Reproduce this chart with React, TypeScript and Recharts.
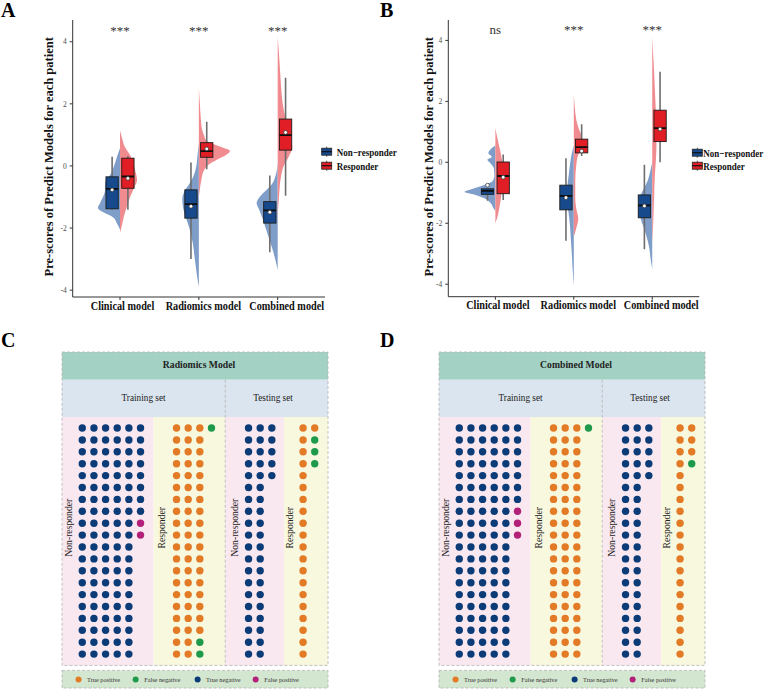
import React from 'react';
import { ScatterChart, Scatter, XAxis, YAxis, ReferenceArea, ReferenceLine, Curve } from 'recharts';

const SERIF = '"Liberation Serif", "Times New Roman", Times, serif';

const MODELS = ['Clinical model', 'Radiomics model', 'Combined model'];
const MODEL_POS = [1, 2, 3];
const GROUPS = ['Non\u2212responder', 'Responder'];
const Y_TICKS = [-4, -2, 0, 2, 4];
const SIG_A = ['***', '***', '***'];
const SIG_B = ['ns', '***', '***'];
const Y_TITLE = 'Pre-scores of Predict Models for each patient';

// boxplot per model: [upper whisker, q3, median, q1, lower whisker, mean]
const BOX_A_NR = [
  [0.3, -0.35, -0.74, -1.38, -1.41, -0.77],
  [0.11, -0.77, -1.23, -1.68, -3.0, -1.3],
  [-0.31, -1.15, -1.43, -1.84, -2.78, -1.49],
];
const BOX_A_R = [
  [0.32, 0.25, -0.34, -0.72, -1.41, -0.4],
  [1.42, 0.75, 0.48, 0.28, -0.11, 0.55],
  [2.84, 1.51, 0.99, 0.51, -0.96, 1.08],
];
const BOX_B_NR = [
  [-0.87, -0.87, -0.94, -1.05, -1.26, -0.75],
  [0.13, -0.75, -1.1, -1.56, -2.57, -1.16],
  [-0.08, -1.07, -1.41, -1.82, -2.85, -1.43],
];
const BOX_B_R = [
  [0.26, 0.01, -0.45, -1.03, -1.24, -0.49],
  [1.25, 0.76, 0.5, 0.31, 0.21, 0.37],
  [2.97, 1.71, 1.12, 0.68, 0.0, 1.09],
];

// half-violin profiles per model: [score, density]
const VIOLIN_A_NR = [
  [[0.57, 0], [0.3, 3], [0, 6], [-0.3, 10], [-0.45, 14], [-0.6, 15], [-0.8, 15], [-1.0, 17], [-1.2, 20], [-1.35, 22], [-1.5, 16], [-1.65, 7], [-1.85, 3], [-2.05, 0]],
  [[0.75, 0], [0.3, 1.5], [0, 2.5], [-0.3, 5], [-0.55, 9], [-0.8, 14], [-1.05, 16.5], [-1.3, 16], [-1.6, 13.5], [-2.0, 9.5], [-2.5, 6], [-3.0, 4], [-3.5, 2], [-3.9, 0]],
  [[0.1, 0], [-0.3, 2], [-0.6, 6], [-0.8, 12], [-1.0, 18], [-1.2, 21], [-1.4, 18.5], [-1.7, 15], [-2.0, 12], [-2.3, 9], [-2.7, 5], [-3.0, 2.5], [-3.35, 0]],
];
const VIOLIN_A_R = [
  [[1.15, 0], [0.9, 2], [0.6, 5], [0.3, 11], [0, 14], [-0.25, 16], [-0.45, 17], [-0.7, 14], [-1.0, 10], [-1.3, 7], [-1.6, 4], [-1.9, 2], [-2.15, 0]],
  [[2.5, 0], [2.0, 1], [1.5, 2], [1.2, 3], [1.0, 5], [0.8, 8], [0.7, 15], [0.6, 23], [0.48, 31], [0.35, 27], [0.2, 18], [0.05, 10], [-0.15, 5], [-0.45, 2.5], [-0.75, 1], [-1.0, 0]],
  [[4.15, 0], [3.5, 1.5], [3.0, 2.5], [2.5, 3.5], [2.0, 5], [1.5, 8], [1.0, 12], [0.6, 14.5], [0.3, 11], [0, 6], [-0.4, 3], [-0.9, 1.5], [-1.6, 0]],
];
const VIOLIN_B_NR = [
  [[0.55, 0], [0.42, 5], [0.3, 7], [0.18, 3.5], [0.08, 8], [-0.03, 5], [-0.2, 1.5], [-0.45, 1], [-0.62, 3], [-0.75, 12], [-0.88, 24], [-0.97, 31], [-1.07, 20], [-1.18, 11], [-1.33, 5], [-1.5, 2], [-1.6, 0]],
  [[0.55, 0], [0.3, 2], [0, 3.5], [-0.4, 5], [-0.8, 6.5], [-1.2, 7], [-1.6, 5.5], [-2.0, 4], [-2.5, 3], [-3.0, 2], [-3.5, 1.2], [-4.05, 0]],
  [[0, 0], [-0.3, 2], [-0.6, 4.5], [-0.9, 9], [-1.2, 13], [-1.5, 14], [-1.8, 12], [-2.1, 9], [-2.4, 6], [-2.8, 3], [-3.2, 1.5], [-3.5, 0]],
];
const VIOLIN_B_R = [
  [[1.12, 0], [0.8, 2], [0.5, 4], [0.2, 6], [-0.1, 7], [-0.5, 7], [-0.9, 6.5], [-1.2, 5.5], [-1.5, 4], [-1.8, 2], [-2.0, 0]],
  [[2.25, 0], [1.8, 1], [1.4, 2.5], [1.1, 5], [0.85, 8], [0.6, 9], [0.4, 7], [0.2, 4], [-0.1, 2.5], [-0.6, 1.5], [-1.2, 1.5], [-1.6, 3], [-1.85, 4.5], [-2.1, 3], [-2.45, 0]],
  [[4.1, 0], [3.5, 1], [3.0, 1.8], [2.5, 2.5], [2.0, 3.2], [1.5, 3.8], [1.0, 4.2], [0.5, 4.2], [0, 3.5], [-0.5, 2.5], [-1.0, 2], [-1.5, 1.5], [-2.0, 1], [-2.6, 0]],
];

// waffle panels: cells = training NR, training R, testing NR, testing R
const SETS = ['Training set', 'Testing set'];
const CLASSES = ['Non-responder', 'Responder'];
const OUTCOMES = ['True positive', 'False negative', 'True negative', 'False positive'];
const RADIOMICS_CORRECT = [108, 58, 45, 21];
const RADIOMICS_WRONG = [2, 3, 0, 3];
const COMBINED_CORRECT = [107, 60, 45, 23];
const COMBINED_WRONG = [3, 1, 0, 1];

const NR_BOX = '#174a8c';
const R_BOX = '#e11d25';
const NR_VIOLIN = '#7f9dc9';
const R_VIOLIN = '#f08b8f';
const TP_C = '#e27a26';
const FN_C = '#1f9a4b';
const TN_C = '#0b3c78';
const FP_C = '#b3207a';
const OUTCOME_COLORS = [TP_C, FN_C, TN_C, FP_C];

const VIOLIN_SCALE = 1 / 78.6;
const BOX_OFFSET = 0.1;
const BOX_W = 12.3;
const SIG_Y = 4.4;
const TICK_DX = [2.5, 4.5, 9];

const blank = () => <g />;

function halfViolin(center: number, side: number, profile: number[][]) {
  return profile.map(([y, d]) => ({ x: center + side * d * VIOLIN_SCALE, y }));
}

function boxData(center: number, stats: number[]) {
  return stats.map((y, k) => ({ x: center, y, k }));
}

const violinLine = (fill: string) => (lp: any) => (
  <Curve points={lp.points} type="monotoneY" fill={fill} stroke="none" />
);

const boxLine = (fill: string) => (lp: any) => {
  const [hi, q3, med, q1, lo] = lp.points;
  const x = hi.x;
  const h = BOX_W / 2;
  return (
    <g>
      <line x1={x} x2={x} y1={hi.y} y2={lo.y} stroke="#6e6e6e" strokeWidth={1.6} />
      <rect x={x - h} y={q3.y} width={BOX_W} height={Math.max(q1.y - q3.y, 0.5)} fill={fill} stroke="#1c1c1c" strokeWidth={0.9} />
      <line x1={x - h} x2={x + h} y1={med.y} y2={med.y} stroke="#0d0d0d" strokeWidth={1.8} />
    </g>
  );
};

const meanDot = (s: any) =>
  s.payload && s.payload.k === 5 ? (
    <circle cx={s.cx} cy={s.cy} r={1.9} fill="#fff" stroke="#2b2b2b" strokeWidth={0.7} />
  ) : (
    <g />
  );

const sigText = (s: any) => (
  <text x={s.cx} y={s.cy + 6} textAnchor="middle" fontFamily={SERIF} fontSize={13} fill="#333">
    {s.payload.label}
  </text>
);

const ModelTick = (t: any) => {
  const i = Math.round(t.payload.value) - 1;
  return (
    <g transform={`translate(${t.x + TICK_DX[i]},${t.y}) scale(0.82,1)`}>
      <text x={0} y={0} dy={8.5} textAnchor="middle" fontFamily={SERIF} fontWeight="bold" fontSize={12.5} fill="#111">
        {MODELS[i]}
      </text>
    </g>
  );
};

function ViolinPanel(p: any) {
  return (
    <div style={{ position: 'absolute', left: p.left, top: 0 }}>
      <ScatterChart width={p.width} height={316} margin={{ top: 20, right: 5, left: 0, bottom: 0 }}>
        <XAxis
          type="number"
          dataKey="x"
          domain={[0.4, 3.6]}
          ticks={MODEL_POS}
          allowDataOverflow
          height={p.xAxisHeight}
          stroke="#333"
          tickSize={3}
          tickMargin={1}
          tick={(t: any) => <ModelTick {...t} />}
        />
        <YAxis
          type="number"
          dataKey="y"
          domain={p.yDomain}
          ticks={Y_TICKS}
          allowDataOverflow
          width={p.yAxisWidth}
          stroke="#333"
          tickSize={3}
          tickMargin={3}
          tick={{ fontSize: 7.5, fill: '#4d4d4d', fontFamily: SERIF }}
        />
        {MODEL_POS.map((c, i) => (
          <Scatter key={'vn' + i} data={halfViolin(c, -1, p.vioNR[i])} shape={blank} line={violinLine(NR_VIOLIN)} isAnimationActive={false} />
        ))}
        {MODEL_POS.map((c, i) => (
          <Scatter key={'vr' + i} data={halfViolin(c, 1, p.vioR[i])} shape={blank} line={violinLine(R_VIOLIN)} isAnimationActive={false} />
        ))}
        {MODEL_POS.map((c, i) => (
          <Scatter key={'bn' + i} data={boxData(c - BOX_OFFSET, p.boxNR[i])} shape={meanDot} line={boxLine(NR_BOX)} isAnimationActive={false} />
        ))}
        {MODEL_POS.map((c, i) => (
          <Scatter key={'br' + i} data={boxData(c + BOX_OFFSET, p.boxR[i])} shape={meanDot} line={boxLine(R_BOX)} isAnimationActive={false} />
        ))}
        <Scatter
          data={MODEL_POS.map((c, i) => ({ x: c, y: SIG_Y, label: p.sig[i] }))}
          shape={sigText}
          isAnimationActive={false}
        />
      </ScatterChart>
    </div>
  );
}

// waffle layout in dot-column / dot-row units
const W_X_DOMAIN = [-1.74, 21.09];
const W_Y_DOMAIN = [-6.39, 21.85];
const GRID_ROWS = 20;
const CELL_START = [0, 8.09, 14.27, 18.95];
const BAND_X = [-1.74, 6.12, 12.27, 17.31, 21.09];
const BAND_Y = [-6.39, -4.06, -0.92, 19.95, 20.37, 21.85];
const CELL_LABEL_X = [-1.18, 6.84, 13.07, 17.8];
const LEGEND_X = [-0.32, 4.58, 9.9, 14.88];

function waffle(start: number, correct: number, wrong: number) {
  const pts: any[] = [];
  for (let k = 0; k < correct + wrong; k++) {
    pts.push({ x: start + Math.floor(k / GRID_ROWS), y: k % GRID_ROWS, w: k >= correct });
  }
  return pts;
}

const dotShape = (fill: string) => (s: any) => <circle cx={s.cx} cy={s.cy} r={3.7} fill={fill} />;

const waffleText = (s: any) => {
  const d = s.payload;
  if (d.k === 'side') {
    return (
      <text transform={`translate(${s.cx},${s.cy}) rotate(-90)`} textAnchor="middle" dominantBaseline="central" fontFamily={SERIF} fontSize={9.7} fill="#222">
        {d.t}
      </text>
    );
  }
  const bold = d.k === 'title';
  return (
    <text transform={`translate(${s.cx},${s.cy}) scale(0.88,1)`} textAnchor="middle" dominantBaseline="central" fontFamily={SERIF} fontSize={bold ? 11 : 10.5} fontWeight={bold ? 'bold' : 'normal'} fill="#222">
      {d.t}
    </text>
  );
};

const legendShape = (s: any) => (
  <g>
    <circle cx={s.cx} cy={s.cy} r={3} fill={s.payload.c} />
    <text transform={`translate(${s.cx + 8.5},${s.cy}) scale(0.9,1)`} dominantBaseline="central" fontFamily={SERIF} fontSize={7} fill="#333">
      {s.payload.t}
    </text>
  </g>
);

function WafflePanel(p: any) {
  const [x0, x1] = W_X_DOMAIN;
  const labels = [
    { x: 10.02, y: -5.32, t: p.title, k: 'title' },
    { x: 5.26, y: -2.57, t: SETS[0], k: 'set' },
    { x: 16.37, y: -2.57, t: SETS[1], k: 'set' },
    ...CELL_LABEL_X.map((x, i) => ({ x, y: 8.38, t: CLASSES[i % 2], k: 'side' })),
  ];
  const legend = OUTCOMES.map((t, i) => ({ x: LEGEND_X[i], y: 21.13, t, c: OUTCOME_COLORS[i] }));
  const dash = { stroke: '#b3b3b3', strokeWidth: 0.8, strokeDasharray: '3 2' };
  return (
    <div style={{ position: 'absolute', left: p.left - 1, top: 351.3 }}>
      <ScatterChart width={268} height={338} margin={{ top: 1, right: 1, bottom: 1, left: 1 }}>
        <XAxis type="number" dataKey="x" domain={W_X_DOMAIN} hide allowDataOverflow />
        <YAxis type="number" dataKey="y" domain={W_Y_DOMAIN} hide reversed allowDataOverflow />
        <ReferenceArea x1={x0} x2={x1} y1={BAND_Y[0]} y2={BAND_Y[1]} fill="#a3d2c5" fillOpacity={1} stroke="none" />
        <ReferenceArea x1={x0} x2={x1} y1={BAND_Y[1]} y2={BAND_Y[2]} fill="#dbe5ef" fillOpacity={1} stroke="none" />
        {[0, 1, 2, 3].map((i) => (
          <ReferenceArea key={'band' + i} x1={BAND_X[i]} x2={BAND_X[i + 1]} y1={BAND_Y[2]} y2={BAND_Y[3]} fill={i % 2 === 0 ? '#fae8f0' : '#f8f8df'} fillOpacity={1} stroke="none" />
        ))}
        <ReferenceArea x1={x0} x2={x1} y1={BAND_Y[0]} y2={BAND_Y[3]} fill="none" fillOpacity={0} {...dash} />
        <ReferenceArea x1={x0} x2={x1} y1={BAND_Y[4]} y2={BAND_Y[5]} fill="#d3e6d0" fillOpacity={1} {...dash} />
        <ReferenceLine segment={[{ x: BAND_X[2], y: BAND_Y[1] }, { x: BAND_X[2], y: BAND_Y[3] }]} {...dash} />
        {CELL_START.map((s, i) => {
          const pts = waffle(s, p.correct[i], p.wrong[i]);
          const isNR = i % 2 === 0;
          return [
            <Scatter key={'c' + i} data={pts.filter((d) => !d.w)} shape={dotShape(isNR ? TN_C : TP_C)} isAnimationActive={false} />,
            <Scatter key={'w' + i} data={pts.filter((d) => d.w)} shape={dotShape(isNR ? FP_C : FN_C)} isAnimationActive={false} />,
          ];
        })}
        <Scatter data={labels} shape={waffleText} isAnimationActive={false} />
        <Scatter data={legend} shape={legendShape} isAnimationActive={false} />
      </ScatterChart>
    </div>
  );
}

function LegendKey({ x, y, fill }: any) {
  return (
    <g>
      <line x1={x + 5} x2={x + 5} y1={y - 5} y2={y + 5} stroke="#555" strokeWidth={1} />
      <rect x={x} y={y - 3.5} width={10} height={7} fill={fill} stroke="#222" strokeWidth={0.8} />
      <line x1={x} x2={x + 10} y1={y} y2={y} stroke="#111" strokeWidth={1.2} />
    </g>
  );
}

function GroupLegend({ kx, tx, ys }: any) {
  return (
    <g>
      {GROUPS.map((g, i) => (
        <g key={g}>
          <LegendKey x={kx} y={ys[i]} fill={i === 0 ? NR_BOX : R_BOX} />
          <text transform={`translate(${tx},${ys[i]}) scale(0.82,1)`} dominantBaseline="central" fontFamily={SERIF} fontWeight="bold" fontSize={11} fill="#111">
            {g}
          </text>
        </g>
      ))}
    </g>
  );
}

function Overlay() {
  const letters = [
    { t: 'A', x: 1, y: 16.7 },
    { t: 'B', x: 380, y: 16.7 },
    { t: 'C', x: 1, y: 346.7 },
    { t: 'D', x: 380, y: 346.7 },
  ];
  return (
    <svg width={765} height={689} style={{ position: 'absolute', left: 0, top: 0, pointerEvents: 'none' }}>
      {letters.map((l) => (
        <text key={l.t} x={l.x} y={l.y} fontFamily={SERIF} fontWeight="bold" fontSize={20} fill="#000">
          {l.t}
        </text>
      ))}
      {[49.3, 429.3].map((x) => (
        <text key={x} transform={`translate(${x},156.8) rotate(-90)`} textAnchor="middle" dominantBaseline="central" fontFamily={SERIF} fontWeight="bold" fontSize={12.5} fill="#111">
          {Y_TITLE}
        </text>
      ))}
      <GroupLegend kx={321.7} tx={336.7} ys={[151.7, 165.7]} />
      <GroupLegend kx={692.3} tx={703.3} ys={[152.7, 165.7]} />
    </svg>
  );
}

export default function App() {
  return (
    <div style={{ position: 'absolute', left: 0, top: 0, width: 765, height: 689, background: '#fff', fontFamily: SERIF, overflow: 'hidden' }}>
      <ViolinPanel left={0} width={330} yAxisWidth={72.7} xAxisHeight={19} yDomain={[-4.22, 4.7]} boxNR={BOX_A_NR} boxR={BOX_A_R} vioNR={VIOLIN_A_NR} vioR={VIOLIN_A_R} sig={SIG_A} />
      <ViolinPanel left={380} width={324.3} yAxisWidth={68.3} xAxisHeight={19.3} yDomain={[-4.41, 4.67]} boxNR={BOX_B_NR} boxR={BOX_B_R} vioNR={VIOLIN_B_NR} vioR={VIOLIN_B_R} sig={SIG_B} />
      <WafflePanel left={61.7} title="Radiomics Model" correct={RADIOMICS_CORRECT} wrong={RADIOMICS_WRONG} />
      <WafflePanel left={439.3} title="Combined Model" correct={COMBINED_CORRECT} wrong={COMBINED_WRONG} />
      <Overlay />
    </div>
  );
}
